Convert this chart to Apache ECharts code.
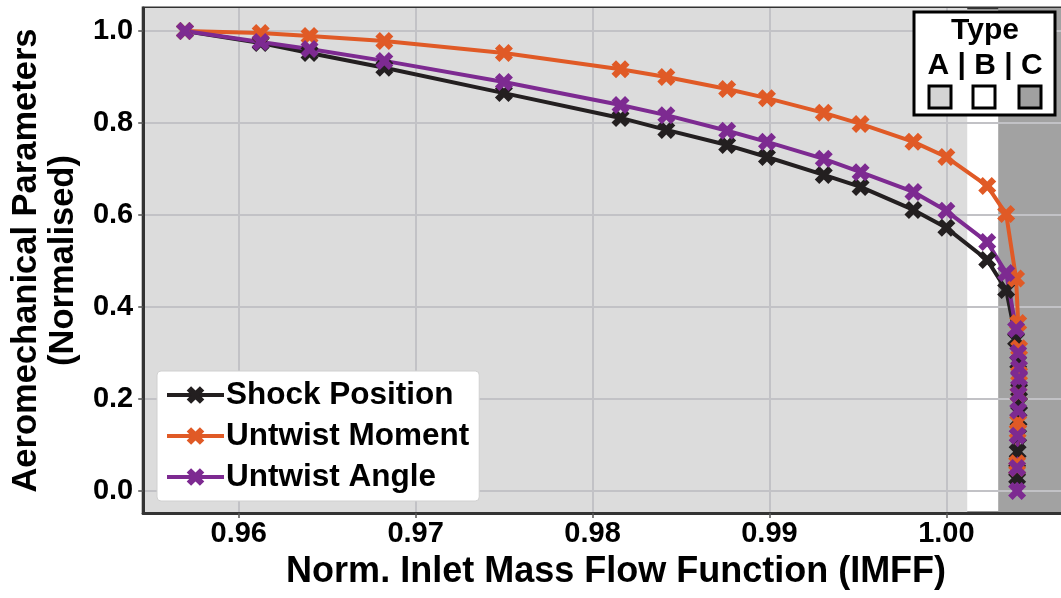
<!DOCTYPE html>
<html>
<head>
<meta charset="utf-8">
<script src="https://cdn.jsdelivr.net/npm/echarts@6/dist/echarts.min.js"></script>
<style>html,body{margin:0;padding:0;background:#fff}#c{width:1061px;height:598px}</style>
</head>
<body>
<div id="c"></div>
<script>
const imff = [0.95696, 0.96124, 0.96400, 0.96823, 0.97499, 0.98158, 0.98417, 0.98761, 0.98986, 0.99307, 0.99515, 0.99814, 1.00000, 1.00231, 1.00338, 1.00394, 1.00406, 1.00411, 1.00411, 1.00408, 1.00406, 1.00403, 1.00400, 1.00400];
const shockPosition = [1.0, 0.974, 0.952, 0.920, 0.865, 0.811, 0.785, 0.752, 0.726, 0.687, 0.661, 0.611, 0.572, 0.502, 0.437, 0.33, 0.28, 0.22, 0.19, 0.155, 0.12, 0.085, 0.045, 0.03];
const untwistMoment = [1.0, 0.9957, 0.989, 0.978, 0.952, 0.917, 0.900, 0.874, 0.854, 0.822, 0.798, 0.759, 0.726, 0.663, 0.602, 0.462, 0.365, 0.31, 0.255, 0.21, 0.15, 0.13, 0.06, 0.05];
const untwistAngle = [1.0, 0.976, 0.961, 0.935, 0.889, 0.839, 0.817, 0.783, 0.759, 0.722, 0.693, 0.650, 0.609, 0.541, 0.474, 0.352, 0.30, 0.268, 0.245, 0.21, 0.175, 0.12, 0.05, 0.0];
const seriesNames = ['Shock Position', 'Untwist Moment', 'Untwist Angle'];
const xTicks = [0.96, 0.97, 0.98, 0.99, 1.00];
const yTicks = [0.0, 0.2, 0.4, 0.6, 0.8, 1.0];
const xRange = [0.9546, 1.00648];
const yRange = [-0.048, 1.05];
const typeARegion = [0.9546, 1.00118];
const typeCRegion = [1.00293, 1.00648];
const typeLabels = ['Type', 'A | B | C'];

const FONT = '"Liberation Sans", Arial, sans-serif';
const colors = ['#231f20', '#e05a26', '#7d2a91'];
const X_PATH = 'path://M0,2.5L2.5,0L5,2.5L7.5,0L10,2.5L7.5,5L10,7.5L7.5,10L5,7.5L2.5,10L0,7.5L2.5,5Z';

function pairs(ys) { return imff.map((x, i) => [x, ys[i]]); }

const chart = echarts.init(document.getElementById('c'), null, {renderer: 'canvas'});
const mkSeries = (name, ys, color) => ({
  name: name, type: 'line', data: pairs(ys), z: 3,
  symbol: X_PATH, symbolSize: 18, showAllSymbol: true,
  lineStyle: {color: color, width: 4},
  itemStyle: {color: color},
  emphasis: {disabled: true}
});

const GZ = 200;
chart.setOption({
  animation: false,
  grid: {left: 143, top: 8, right: -2, bottom: 85, show: true, borderColor: '#333', borderWidth: 3, backgroundColor: 'transparent'},
  xAxis: {
    type: 'value', min: xRange[0], max: xRange[1], z: 1,
    name: 'Norm. Inlet Mass Flow Function (IMFF)', nameLocation: 'middle', nameGap: 41,
    nameTextStyle: {fontFamily: FONT, fontWeight: 'bold', fontSize: 36, color: '#000', padding: [0, 0, 0, 28]},
    axisLine: {show: true, onZero: false, lineStyle: {color: '#333', width: 3}},
    axisTick: {show: true, length: 5, lineStyle: {color: '#555', width: 1.5}, customValues: xTicks},
    axisLabel: {customValues: xTicks, formatter: v => v.toFixed(2), fontFamily: FONT, fontWeight: 'bold', fontSize: 29, color: '#000', margin: 6},
    splitLine: {show: true, lineStyle: {color: '#c2c2c6', width: 2}}
  },
  yAxis: {
    type: 'value', min: yRange[0], max: yRange[1], z: 1,
    name: 'Aeromechanical Parameters\n(Normalised)', nameLocation: 'middle', nameGap: 48,
    nameTextStyle: {fontFamily: FONT, fontWeight: 'bold', fontSize: 34.5, color: '#000', lineHeight: 37},
    axisLine: {show: true, onZero: false, lineStyle: {color: '#333', width: 3}},
    axisTick: {show: true, length: 5, lineStyle: {color: '#555', width: 1.5}, customValues: yTicks},
    axisLabel: {customValues: yTicks, formatter: v => v.toFixed(1), fontFamily: FONT, fontWeight: 'bold', fontSize: 29, color: '#000', margin: 10},
    splitLine: {show: true, lineStyle: {color: '#c2c2c6', width: 2}}
  },
  legend: {
    data: seriesNames, orient: 'vertical', left: 157, top: 371,
    backgroundColor: '#fff', borderColor: '#d0d0d0', borderWidth: 1, borderRadius: 4,
    padding: [8, 10, 8, 8], itemWidth: 57, itemHeight: 22, itemGap: 9,
    lineStyle: {width: 4},
    textStyle: {fontFamily: FONT, fontWeight: 'bold', fontSize: 31.5, color: '#000', lineHeight: 31, padding: [0, 0, 0, -3]}
  },
  series: [
    {
      name: 'shading', type: 'line', data: [], z: 0, silent: true,
      markArea: {
        silent: true, z: 0,
        data: [
          [{xAxis: typeARegion[0], itemStyle: {color: '#dcdcdc'}}, {xAxis: typeARegion[1]}],
          [{xAxis: typeCRegion[0], itemStyle: {color: '#a2a2a2'}}, {xAxis: typeCRegion[1]}]
        ]
      }
    },
    mkSeries(seriesNames[0], shockPosition, colors[0]),
    mkSeries(seriesNames[1], untwistMoment, colors[1]),
    mkSeries(seriesNames[2], untwistAngle, colors[2])
  ],
  graphic: [
    {type: 'rect', z: GZ, shape: {x: 914, y: 12, width: 141, height: 103}, style: {fill: '#fff', stroke: '#000', lineWidth: 3}},
    {type: 'text', z: GZ, x: 985, y: 31, style: {text: typeLabels[0], font: 'bold 30px ' + FONT, fill: '#000', align: 'center', verticalAlign: 'middle'}},
    {type: 'text', z: GZ, x: 985, y: 66, style: {text: typeLabels[1], font: 'bold 30px ' + FONT, fill: '#000', align: 'center', verticalAlign: 'middle'}},
    {type: 'rect', z: GZ, shape: {x: 929, y: 86, width: 22, height: 22}, style: {fill: '#d4d4d4', stroke: '#000', lineWidth: 3}},
    {type: 'rect', z: GZ, shape: {x: 973, y: 86, width: 22, height: 22}, style: {fill: '#fff', stroke: '#000', lineWidth: 3}},
    {type: 'rect', z: GZ, shape: {x: 1019, y: 86, width: 22, height: 22}, style: {fill: '#a0a0a0', stroke: '#000', lineWidth: 3}}
  ]
});
</script>
</body>
</html>
